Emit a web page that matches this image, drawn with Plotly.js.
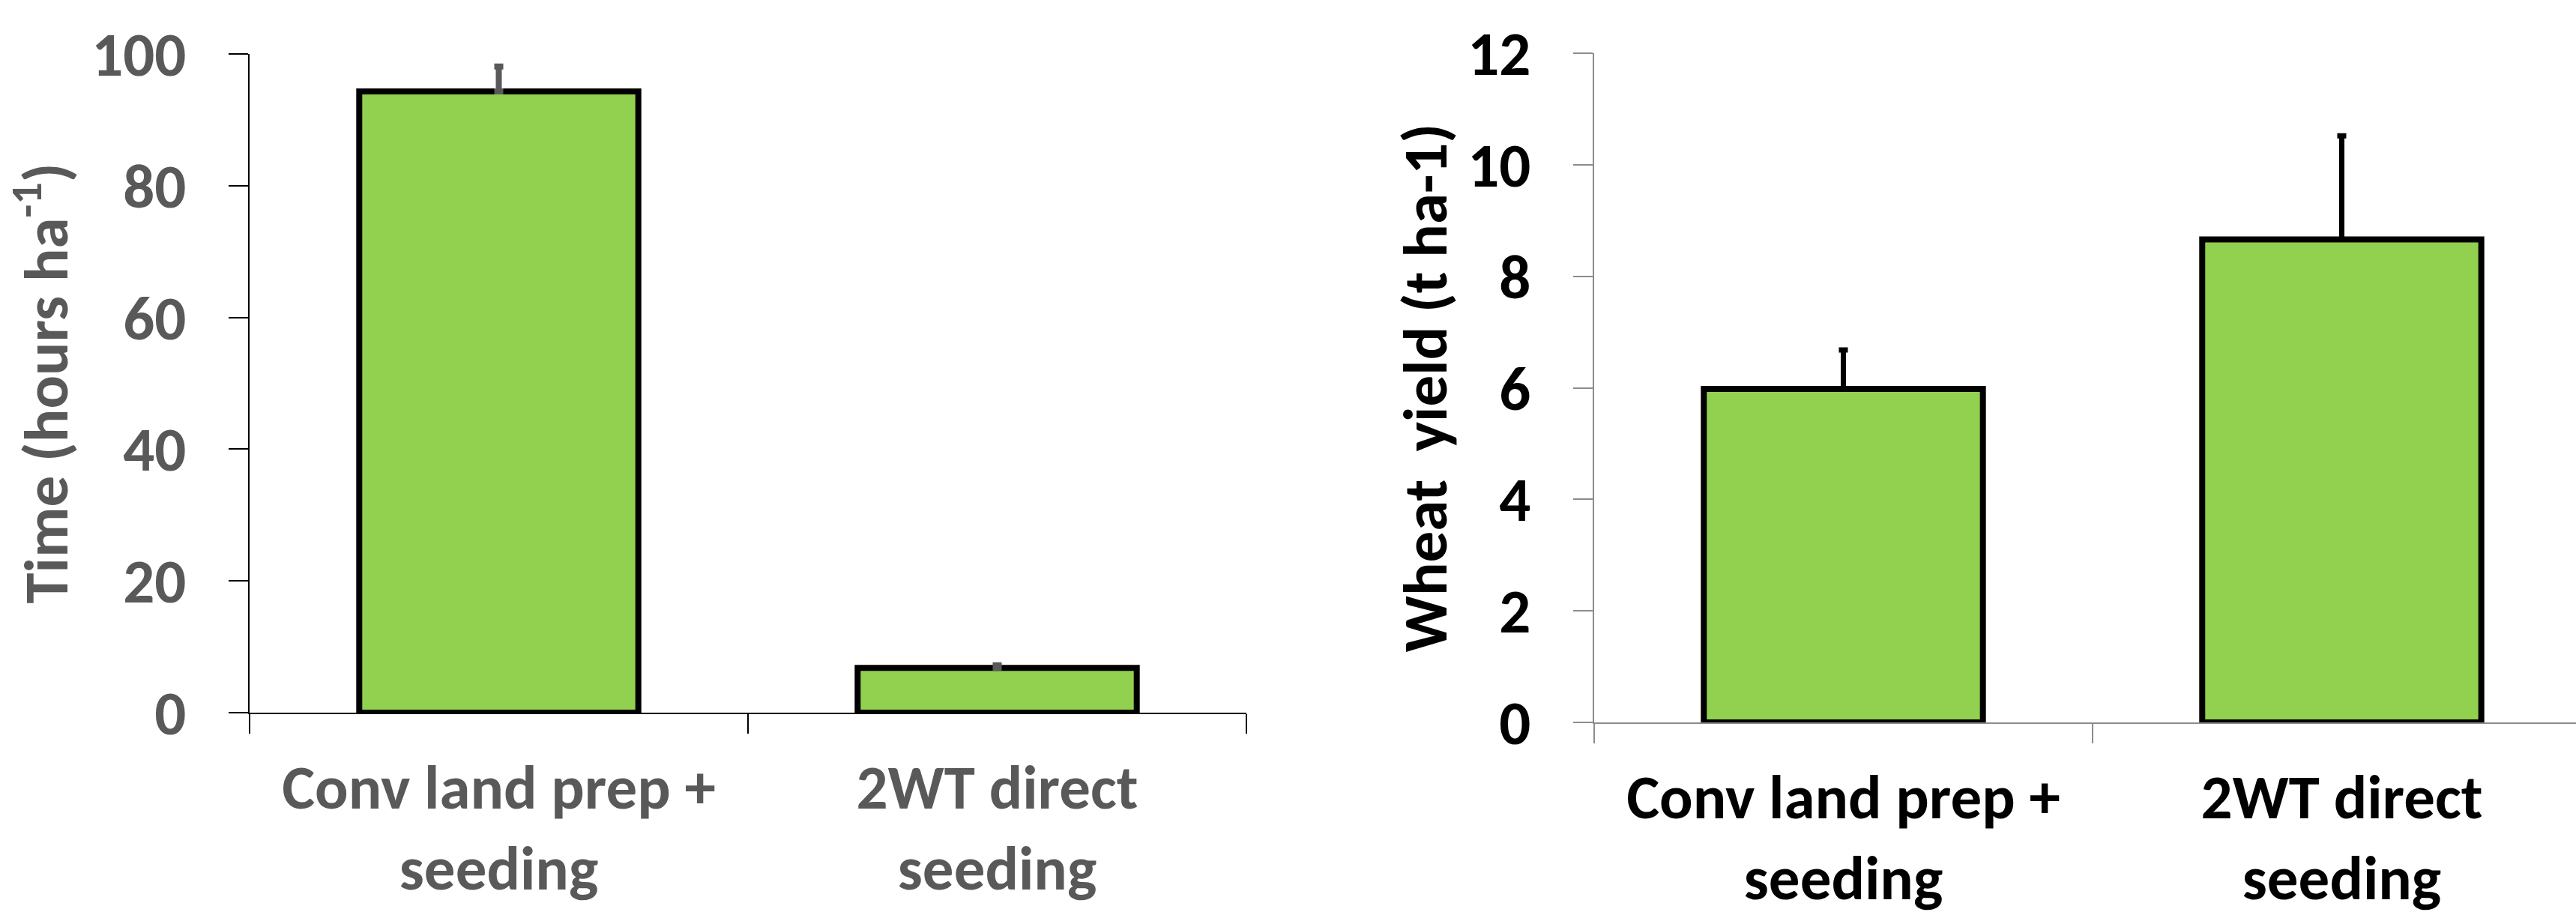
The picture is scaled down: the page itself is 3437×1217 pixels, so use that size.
<!DOCTYPE html>
<html>
<head>
<meta charset="utf-8">
<script src="https://cdn.plot.ly/plotly-3.0.1.min.js"></script>
<style>html,body{margin:0;padding:0;background:#fff;}#chart{width:3437px;height:1217px;}</style>
</head>
<body>
<div id="chart"></div>
<script>
// ---- data ----
const categories = ["Conv land prep +<br>seeding", "2WT direct<br>seeding"];
const timeValues = [94.3, 6.8];
const timeErrors = [3.8, 0.4];
const yieldValues = [5.98, 8.66];
const yieldErrors = [0.70, 1.86];
const timeTicks = [0, 20, 40, 60, 80, 100];
const yieldTicks = [0, 2, 4, 6, 8, 10, 12];

const FONT = "Carlito, Calibri, Lato, sans-serif";
const GRAY = "#595959";
const GREEN = "#92d050";
const FS = 83;

const traces = [
  {
    type: "bar", x: categories, y: timeValues, xaxis: "x", yaxis: "y",
    width: 0.56,
    marker: {color: GREEN, line: {color: "#000", width: 8}},
    error_y: {type: "data", symmetric: false, array: timeErrors, arrayminus: [0, 0],
              color: GRAY, thickness: 8, width: 6},
    hoverinfo: "skip", showlegend: false
  },
  {
    type: "bar", x: categories, y: yieldValues, xaxis: "x2", yaxis: "y2",
    width: 0.56,
    marker: {color: GREEN, line: {color: "#000", width: 8}},
    error_y: {type: "data", symmetric: false, array: yieldErrors, arrayminus: [0, 0],
              color: "#000", thickness: 7, width: 6},
    hoverinfo: "skip", showlegend: false
  }
];

const tickFontGray = {family: FONT, size: FS, color: GRAY, weight: "bold"};
const tickFontBlack = {family: FONT, size: FS, color: "#000", weight: "bold"};

const layout = {
  width: 3437, height: 1217, autosize: false,
  margin: {l: 0, r: 0, t: 0, b: 0, pad: 0},
  paper_bgcolor: "#fff", plot_bgcolor: "#fff",
  showlegend: false,
  xaxis: {
    domain: [333/3437, 1663/3437], anchor: "y",
    type: "category", range: [-0.5, 1.5],
    showline: true, linecolor: "#000", linewidth: 2,
    ticks: "outside", tickson: "boundaries", ticklen: 26, tickwidth: 2, tickcolor: "#000",
    showgrid: false, zeroline: false,
    tickfont: tickFontGray, ticklabelstandoff: 26, fixedrange: true
  },
  yaxis: {
    domain: [1 - 951/1217, 1 - 72/1217], anchor: "x",
    range: [0, 100], tickvals: timeTicks,
    showline: true, linecolor: "#000", linewidth: 2,
    ticks: "outside", ticklen: 26, tickwidth: 2, tickcolor: "#000",
    showgrid: false, zeroline: false,
    tickfont: tickFontGray, ticklabelstandoff: 40,
    title: {text: "Time (hours ha<sup>-1</sup>)", font: {family: FONT, size: FS, color: GRAY, weight: "bold"}, standoff: 34},
    fixedrange: true
  },
  xaxis2: {
    domain: [2127/3437, 1], anchor: "y2",
    type: "category", range: [-0.5, 1.47],
    showline: true, linecolor: "#8c8c8c", linewidth: 2,
    ticks: "outside", tickson: "boundaries", ticklen: 26, tickwidth: 2, tickcolor: "#8c8c8c",
    showgrid: false, zeroline: false,
    tickfont: tickFontBlack, ticklabelstandoff: 26, fixedrange: true
  },
  yaxis2: {
    domain: [1 - 964/1217, 1 - 71/1217], anchor: "x2",
    range: [0, 12], tickvals: yieldTicks,
    showline: true, linecolor: "#8c8c8c", linewidth: 2,
    ticks: "outside", ticklen: 26, tickwidth: 2, tickcolor: "#8c8c8c",
    showgrid: false, zeroline: false,
    tickfont: tickFontBlack, ticklabelstandoff: 40,
    title: {text: "Wheat\u00a0 yield (t ha-1)", font: {family: FONT, size: FS, color: "#000", weight: "bold"}, standoff: 0},
    fixedrange: true
  }
};

Plotly.newPlot("chart", traces, layout, {staticPlot: true, displayModeBar: false});
</script>
</body>
</html>
